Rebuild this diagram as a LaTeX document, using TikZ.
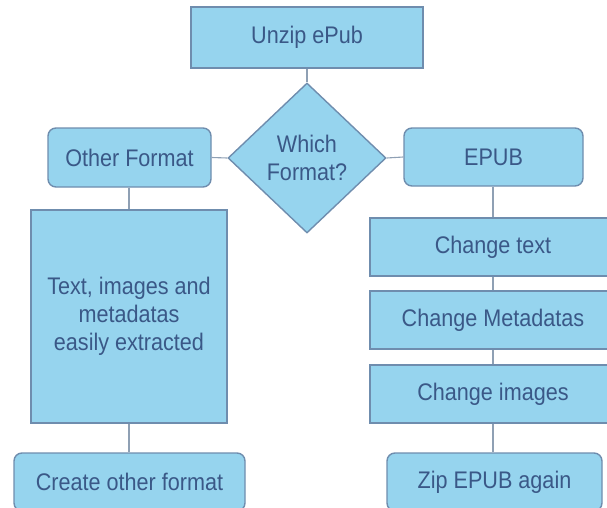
\documentclass[tikz,border=0pt]{standalone}
\usepackage{fontspec}
\setmainfont{Liberation Sans}[FakeStretch=0.9]
\usetikzlibrary{shapes.geometric}
\definecolor{boxfill}{HTML}{96D4EE}
\definecolor{boxline}{HTML}{6F8DAE}
\definecolor{boxtext}{HTML}{3A5887}
\definecolor{connline}{HTML}{8FA0B4}
\tikzset{
  base/.style={draw=boxline, fill=boxfill, line width=1.4pt, text=boxtext,
    font=\fontsize{24}{28}\selectfont, align=center, inner sep=0pt},
  sq/.style={base},
  rnd/.style={base, rounded corners=8pt},
  dia/.style={base, diamond, aspect=1.05},
  conn/.style={draw=connline, line width=1.1pt}
}
\begin{document}
\begin{tikzpicture}[x=1pt,y=-1pt]
\useasboundingbox (0,0) rectangle (607,508);
\begin{scope}
\clip (0,0) rectangle (607,508);
\node[sq, minimum width=232pt, minimum height=61pt] (unzip) at (307,37.5) {Unzip ePub};
\node[dia, minimum width=158pt, minimum height=150pt] (which) at (307,158) {\fontsize{24}{25}\selectfont Which\\Format?};
\node[rnd, minimum width=163pt, minimum height=59pt] (other) at (129.5,157.5) {Other Format};
\node[rnd, minimum width=179pt, minimum height=58pt] (epub) at (493.5,157) {EPUB};
\node[sq, minimum width=196pt, minimum height=213pt] (extract) at (129,316.5) {Text, images and\\metadatas\\easily extracted};
\node[rnd, minimum width=231pt, minimum height=58pt] (create) at (129.5,482) {Create other format};
\node[sq, minimum width=246pt, minimum height=58pt] (ctext) at (493,247) {Change text};
\node[sq, minimum width=246pt, minimum height=58pt] (cmeta) at (493,320) {Change Metadatas};
\node[sq, minimum width=246pt, minimum height=58pt] (cimg) at (493,394) {Change images};
\node[rnd, minimum width=215pt, minimum height=58pt] (zip) at (494.5,482) {Zip EPUB again};
\end{scope}
\draw[conn] (unzip.south) -- (which.north);
\draw[conn] (which.west) -- (other.east);
\draw[conn] (which.east) -- (epub.west);
\draw[conn] (other.south -| extract.north) -- (extract.north);
\draw[conn] (extract.south) -- (extract.south |- create.north);
\draw[conn] (ctext.north |- epub.south) -- (ctext.north);
\draw[conn] (ctext.south) -- (cmeta.north);
\draw[conn] (cmeta.south) -- (cimg.north);
\draw[conn] (cimg.south) -- (cimg.south |- zip.north);
\end{tikzpicture}
\end{document}
